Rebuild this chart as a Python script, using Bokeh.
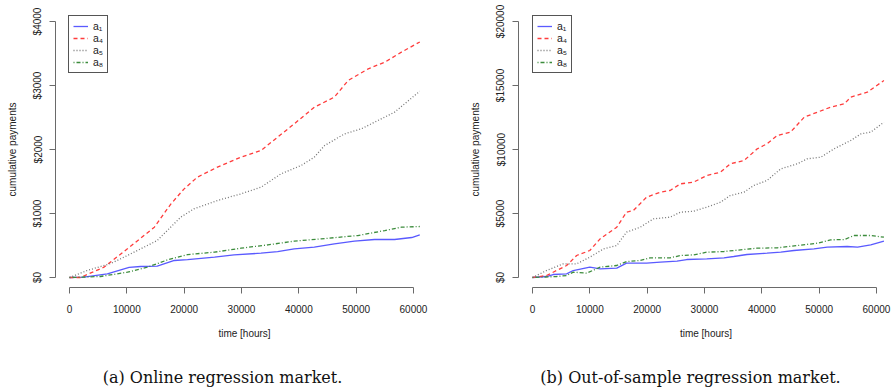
from bokeh.plotting import figure
from bokeh.layouts import row, column
from bokeh.models import FixedTicker, Legend, LegendItem, Label, Range1d
from bokeh.embed import file_html
from bokeh.resources import INLINE

# ---------------- data ----------------
x_ticks = [0, 10000, 20000, 30000, 40000, 50000, 60000]
online_y_ticks = [0, 1000, 2000, 3000, 4000]
online_y_labels = ["$0", "$1000", "$2000", "$3000", "$4000"]
oos_y_ticks = [0, 5000, 10000, 15000, 20000]
oos_y_labels = ["$0", "$5000", "$10000", "$15000", "$20000"]
series_names = ["a\u2081", "a\u2084", "a\u2085", "a\u2088"]
captions = ["(a) Online regression market.", "(b) Out-of-sample regression market."]

# (a) Online regression market
online_a1_t = [0, 2500, 6600, 10400, 12400, 15300, 18300, 20600, 25300, 28700, 33400, 36300,
               39200, 42700, 46200, 49700, 53200, 56700, 59700, 61100]
online_a1_v = [0, 5, 57, 160, 172, 177, 266, 281, 318, 354, 380, 406,
               448, 474, 526, 568, 594, 594, 625, 667]
online_a4_t = [0, 1900, 6000, 10100, 14800, 17700, 20000, 22300, 25800, 29900, 33400, 36300,
               39200, 42700, 46200, 48600, 52100, 55000, 57900, 61100]
online_a4_v = [0, 0, 161, 448, 786, 1151, 1385, 1568, 1724, 1880, 1984, 2193,
               2401, 2661, 2818, 3078, 3260, 3365, 3521, 3680]
online_a5_t = [0, 3100, 7200, 10100, 15300, 19400, 21700, 25800, 29900, 33400, 36900, 40400,
               42700, 44500, 48000, 50900, 53800, 56700, 61100]
online_a5_v = [0, 110, 219, 344, 578, 943, 1073, 1203, 1307, 1411, 1620, 1750,
               1880, 2062, 2245, 2323, 2453, 2583, 2911]
online_a8_t = [0, 5400, 10100, 13600, 17100, 20600, 25300, 29900, 34600, 39200, 43900, 50300,
               55000, 57900, 61100]
online_a8_v = [0, 16, 83, 161, 276, 359, 396, 458, 510, 568, 604, 656, 734, 786, 797]

# (b) Out-of-sample regression market
oos_a1_t = [0, 2450, 3600, 5950, 7100, 10000, 11800, 14700, 16400, 19900, 22300, 25200, 26900,
            30400, 33400, 35100, 37400, 40900, 43300, 45600, 49100, 51400, 54900, 56700, 59000, 61300]
oos_a1_v = [0, 78, 234, 286, 547, 807, 677, 729, 1120, 1120, 1198, 1276, 1406,
            1458, 1536, 1641, 1797, 1901, 1979, 2109, 2240, 2370, 2422, 2370, 2552, 2839]
oos_a4_t = [0, 2450, 4200, 5950, 7700, 10000, 11800, 14700, 16400, 17600, 19900, 22300, 24000,
            25800, 28100, 30400, 32800, 34500, 36900, 39200, 40900, 42700, 45000, 47400, 49700,
            52000, 54400, 55500, 58400, 61300]
oos_a4_v = [0, 156, 547, 938, 1719, 2109, 3020, 3930, 5104, 5234, 6276, 6667, 6797,
            7318, 7448, 7969, 8229, 8880, 9141, 10052, 10443, 11094, 11354, 12526, 12917,
            13307, 13568, 14088, 14479, 15391]
oos_a5_t = [0, 2450, 5360, 7700, 10000, 12400, 14700, 16400, 18800, 21100, 24000, 25800, 28100,
            30400, 32800, 34500, 36900, 38600, 40900, 43300, 46200, 47900, 50300, 52600, 55500,
            57300, 59000, 61300]
oos_a5_v = [0, 547, 1068, 1068, 1589, 2240, 2500, 3542, 3932, 4583, 4714, 5104, 5182,
            5495, 5885, 6406, 6667, 7188, 7578, 8490, 8880, 9271, 9401, 10052, 10703,
            11224, 11354, 12135]
oos_a8_t = [0, 4200, 5950, 7100, 9450, 11800, 14700, 16400, 18800, 20500, 24000, 25800, 28100,
            30400, 33400, 36300, 39200, 42700, 46200, 49700, 52000, 54400, 56100, 59000, 61300]
oos_a8_v = [0, 78, 156, 417, 339, 807, 938, 1250, 1328, 1536, 1536, 1719, 1771,
            1979, 2031, 2161, 2292, 2318, 2500, 2682, 2943, 2969, 3281, 3281, 3151]

# ---------------- styling ----------------
COLORS = ["#5a5aff", "#ff3c3c", "#777777", "#3c8c3c"]
DASHES = ["solid", "4 3", "1 2", "1 2 4 2"]
AXIS_COLOR = "#6a6a6a"
TEXT_COLOR = "#222222"
SANS = "Liberation Sans"
MAIN_H = 350
CAP_H = 40


def make_panel(width, x_end, y_ticks, y_labels, series, border_left, border_right, leg_x):
    y_span = y_ticks[-1] - y_ticks[0]
    p = figure(width=width, height=MAIN_H,
               x_range=Range1d(-2442, x_end),
               y_range=Range1d(-0.039 * y_span, y_ticks[-1] + 0.039 * y_span),
               output_backend="svg", toolbar_location=None,
               min_border_left=border_left, min_border_right=border_right,
               min_border_top=11, min_border_bottom=63)
    p.xgrid.visible = False
    p.ygrid.visible = False
    p.outline_line_color = None
    p.background_fill_color = "white"

    xa = p.xaxis[0]
    xa.ticker = FixedTicker(ticks=x_ticks)
    xa.bounds = (x_ticks[0], x_ticks[-1])
    xa.axis_label = "time [hours]"
    ya = p.yaxis[0]
    ya.ticker = FixedTicker(ticks=y_ticks)
    ya.bounds = (y_ticks[0], y_ticks[-1])
    ya.major_label_overrides = {t: lab for t, lab in zip(y_ticks, y_labels)}
    ya.major_label_orientation = "vertical"
    ya.axis_label = "cumulative payments"
    for ax in (xa, ya):
        ax.axis_line_color = AXIS_COLOR
        ax.major_tick_line_color = AXIS_COLOR
        ax.minor_tick_line_color = None
        ax.major_tick_out = 6
        ax.major_tick_in = 0
        ax.major_label_text_font = SANS
        ax.major_label_text_font_size = "10px"
        ax.major_label_text_color = TEXT_COLOR
        ax.axis_label_text_font = SANS
        ax.axis_label_text_font_size = "10px"
        ax.axis_label_text_font_style = "normal"
        ax.axis_label_text_color = TEXT_COLOR
    xa.major_label_standoff = 11
    xa.axis_label_standoff = 12
    ya.major_label_standoff = 6
    ya.axis_label_standoff = 12

    items = []
    for (t, v), name, col, dash in zip(series, series_names, COLORS, DASHES):
        r = p.line(t, v, line_color=col, line_dash=dash, line_width=1.3)
        items.append(LegendItem(label=name, renderers=[r]))

    leg = Legend(items=items, location=(leg_x, 214), margin=0, padding=4, spacing=0,
                 label_height=8, label_width=10, glyph_height=8, glyph_width=15,
                 label_standoff=5,
                 label_text_font=SANS, label_text_font_size="10.5px",
                 label_text_color=TEXT_COLOR, border_line_color="#555555",
                 border_line_alpha=1.0, border_line_width=1,
                 background_fill_color="white", background_fill_alpha=1.0)
    p.add_layout(leg)
    return p


def make_caption(width, text, cx):
    c = figure(width=width, height=CAP_H, x_range=Range1d(0, 1), y_range=Range1d(0, 1),
               x_axis_location=None, y_axis_location=None,
               output_backend="svg", toolbar_location=None, min_border=0)
    c.xgrid.visible = False
    c.ygrid.visible = False
    c.outline_line_color = None
    c.add_layout(Label(x=cx, y=13, x_units="screen", y_units="screen",
                       text=text, text_align="center", text_baseline="middle",
                       text_font="DejaVu Serif", text_font_size="16px",
                       text_color="#111111"))
    return c


p1 = make_panel(446, 63492, online_y_ticks, online_y_labels,
                [(online_a1_t, online_a1_v), (online_a4_t, online_a4_v),
                 (online_a5_t, online_a5_v), (online_a8_t, online_a8_v)],
                55, 13, 13)
p2 = make_panel(447, 62969, oos_y_ticks, oos_y_labels,
                [(oos_a1_t, oos_a1_v), (oos_a4_t, oos_a4_v),
                 (oos_a5_t, oos_a5_v), (oos_a8_t, oos_a8_v)],
                72, 0, 14)
c1 = make_caption(446, captions[0], 222)
c2 = make_caption(447, captions[1], 244)

layout = column(row(p1, p2), row(c1, c2))
open("out.html", "w").write(file_html(layout, INLINE))
